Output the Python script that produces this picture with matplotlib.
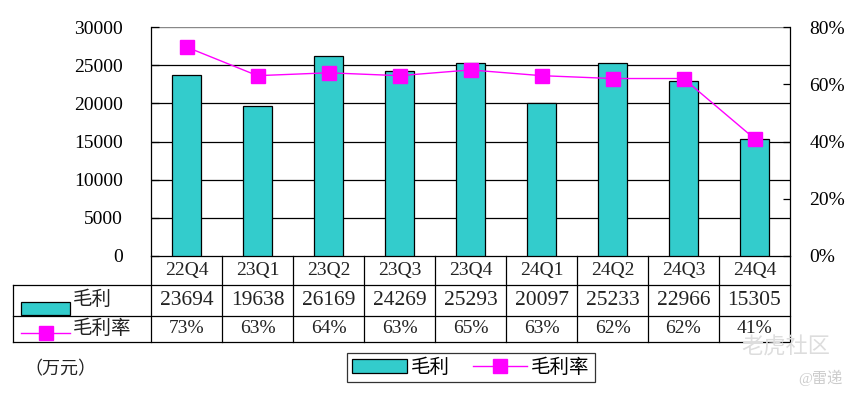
import matplotlib
matplotlib.use("Agg")
import matplotlib.pyplot as plt
import matplotlib.transforms as mtransforms
from matplotlib.patches import Rectangle
from matplotlib.lines import Line2D

plt.rcParams['font.family'] = ['Liberation Serif', 'Noto Sans CJK SC']

quarters = ['22Q4', '23Q1', '23Q2', '23Q3', '23Q4', '24Q1', '24Q2', '24Q3', '24Q4']
gross_profit = [23694, 19638, 26169, 24269, 25293, 20097, 25233, 22966, 15305]
gross_margin = [73, 63, 64, 63, 65, 63, 62, 62, 41]
left_ticks = [0, 5000, 10000, 15000, 20000, 25000, 30000]
right_ticks = [0, 20, 40, 60, 80]

bar_color = '#33CCCC'
line_color = '#FF00FF'

fig = plt.figure(figsize=(8.58, 3.98), dpi=100)
ax = fig.add_axes([151/858, 1-256/398, 639/858, 229/398])
x = list(range(len(quarters)))

ax.bar(x, gross_profit, width=0.41, color=bar_color, edgecolor='black', linewidth=0.9, zorder=3)
ax.set_xlim(-0.5, len(quarters) - 0.5)
ax.set_ylim(0, 30000)
ax.set_yticks(left_ticks)
ax.set_yticklabels([str(v) for v in left_ticks], fontsize=14)
ax.set_xticks([])
for v in left_ticks[1:-1]:
    ax.axhline(v, color='black', linewidth=0.9, zorder=1)
ax.axhline(30000, color='#888888', linewidth=1.0, zorder=1)
ax.tick_params(axis='y', direction='in', length=6, width=0.9, pad=20)
for s in ['top', 'right']:
    ax.spines[s].set_visible(False)
ax.spines['left'].set_linewidth(0.9)
ax.spines['bottom'].set_linewidth(0.9)

ax2 = ax.twinx()
ax2.plot(x, gross_margin, color=line_color, linewidth=1.0, marker='s', markersize=9.5,
         markerfacecolor=line_color, markeredgecolor=line_color, zorder=4)
ax2.set_ylim(0, 80)
ax2.set_yticks(right_ticks)
ax2.set_yticklabels([f'{v}%' for v in right_ticks], fontsize=14)
ax2.tick_params(axis='y', direction='in', length=5, width=0.9, pad=14)
for s in ['top', 'left', 'bottom']:
    ax2.spines[s].set_visible(False)
ax2.spines['right'].set_linewidth(0.9)

# data table beneath the axes
trans = mtransforms.blended_transform_factory(ax.transData, ax.transAxes)
y_row1, y_row2, y_row3 = -0.1266, -0.262, -0.3755
x_left = -2.444
x_right = len(quarters) - 0.5
for yy in [y_row1, y_row2, y_row3]:
    ax.plot([x_left, x_right], [yy, yy], color='black', linewidth=0.9, transform=trans, clip_on=False)
ax.plot([x_left, x_left], [y_row1, y_row3], color='black', linewidth=0.9, transform=trans, clip_on=False)
ax.plot([-0.5, -0.5], [0, y_row3], color='black', linewidth=0.9, transform=trans, clip_on=False)
ax.plot([x_right, x_right], [0, y_row3], color='black', linewidth=0.9, transform=trans, clip_on=False)
for i in range(len(quarters) - 1):
    ax.plot([i + 0.5, i + 0.5], [0, y_row3], color='black', linewidth=0.9, transform=trans, clip_on=False)

for i, q in enumerate(quarters):
    ax.text(i, -0.063, q, ha='center', va='center', fontsize=14, transform=trans, color='#222222')
    ax.text(i, -0.194, str(gross_profit[i]), ha='center', va='center', fontsize=15.5, transform=trans, color='#222222')
    ax.text(i, -0.318, f'{gross_margin[i]}%', ha='center', va='center', fontsize=14, transform=trans, color='#222222')

# row keys
fig.patches.append(Rectangle((21/858, 1-315/398), 49/858, 13/398, facecolor=bar_color,
                             edgecolor='black', linewidth=0.9, transform=fig.transFigure))
fig.text(73/858, 1-300/398, '毛利', fontsize=14, va='center', ha='left', color='#222222')
fig.lines.append(Line2D([21/858, 70/858], [1-333/398, 1-333/398], color=line_color, linewidth=1.0,
                        transform=fig.transFigure))
fig.lines.append(Line2D([45.5/858], [1-333/398], marker='s', markersize=9.5, color=line_color,
                        transform=fig.transFigure))
fig.text(73/858, 1-329/398, '毛利率', fontsize=14, va='center', ha='left', color='#222222')

# legend
handles = [Rectangle((0, 0), 1, 1, facecolor=bar_color, edgecolor='black', linewidth=0.9),
           Line2D([], [], color=line_color, linewidth=1.0, marker='s', markersize=9.5)]
leg = fig.legend(handles, ['毛利', '毛利率'], loc='center', bbox_to_anchor=(471/858, 1-367.5/398),
                 ncol=2, fontsize=14, frameon=True, fancybox=False, edgecolor='black',
                 handlelength=2.8, handletextpad=0.2, columnspacing=1.2, borderpad=0.25)
leg.get_frame().set_linewidth(0.9)

fig.text(60/858, 1-370/398, '（万元）', fontsize=13, ha='center', va='center', color='#222222')
fig.text(786/858, 1-348/398, '老虎社区', fontsize=16, ha='center', va='center', color='#dddddd')
fig.text(820/858, 1-378/398, '@雷递', fontsize=11, ha='center', va='center', color='#cccccc')

fig.savefig('out.png', dpi=100)
